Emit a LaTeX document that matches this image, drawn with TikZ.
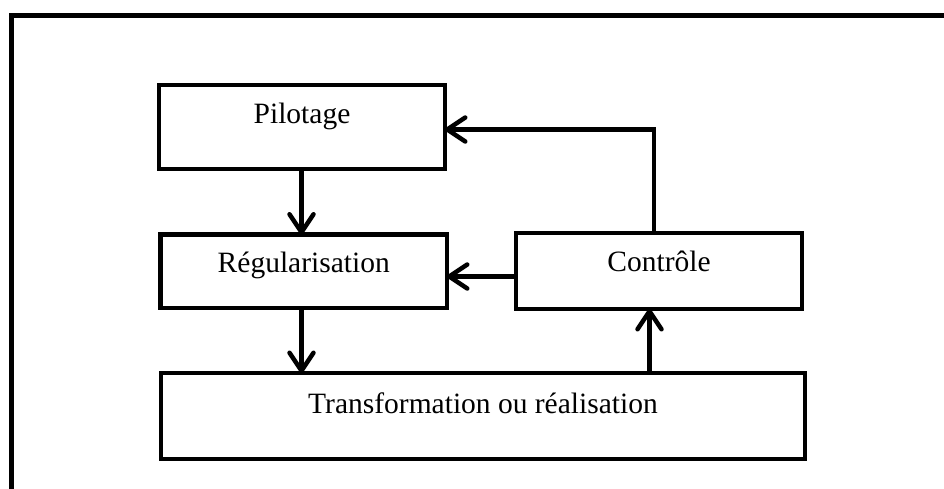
\documentclass[tikz,border=0pt]{standalone}
\usepackage{fontspec}
\setmainfont{Liberation Serif}
\usetikzlibrary{arrows.meta}
\begin{document}
\begin{tikzpicture}[x=1pt,y=-1pt,
  box/.style={draw=black, line width=4.3pt, fill=white, rectangle,
    inner sep=0pt, outer sep=0pt, anchor=base, line join=miter,
    font=\fontsize{29.5}{34}\selectfont},
  flow/.style={draw=black, line width=4.5pt, line join=miter,
    -{Straight Barb[length=18pt,width=24pt,round]}},
  frame/.style={draw=black, line width=5pt}]

  \useasboundingbox (0,0) rectangle (944,488);
  \begin{scope}
    \clip (0,0) rectangle (944,488);
    \draw[frame] (11,15.5) rectangle (960,510);
  \end{scope}

  % boxes, placed by their text baselines
  \node[box, minimum width=286pt, text height=38.3pt, text depth=45.7pt]
    (P) at (302,123.3) {Pilotage};
  \node[box, minimum width=286.5pt, text height=37.5pt, text depth=36pt]
    (R) at (303.75,272) {Régularisation};
  \node[box, minimum width=286pt, text height=38pt, text depth=38pt]
    (C) at (659,271) {Contrôle};
  \node[box, minimum width=644pt, text height=40pt, text depth=46pt]
    (T) at (483,413) {Transformation ou réalisation};

  % start of the feedback from Contrôle to Régularisation
  \coordinate (cw) at ([yshift=-5.5pt]C.west);

  % connectors
  \draw[flow] ([xshift=-0.5pt]P.south) -- ([xshift=-0.5pt]P.south |- R.north);
  \draw[flow] ([xshift=-0.5pt]P.south |- R.south) -- ([xshift=-0.5pt]P.south |- T.north);
  \draw[flow] (cw) -- (R.east |- cw);
  \draw[flow] ([xshift=-9.5pt]C.south |- T.north) -- ([xshift=-9.5pt]C.south);
  \draw[flow] ([xshift=-5pt]C.north) |- ([yshift=-2.5pt]P.east);
\end{tikzpicture}
\end{document}
